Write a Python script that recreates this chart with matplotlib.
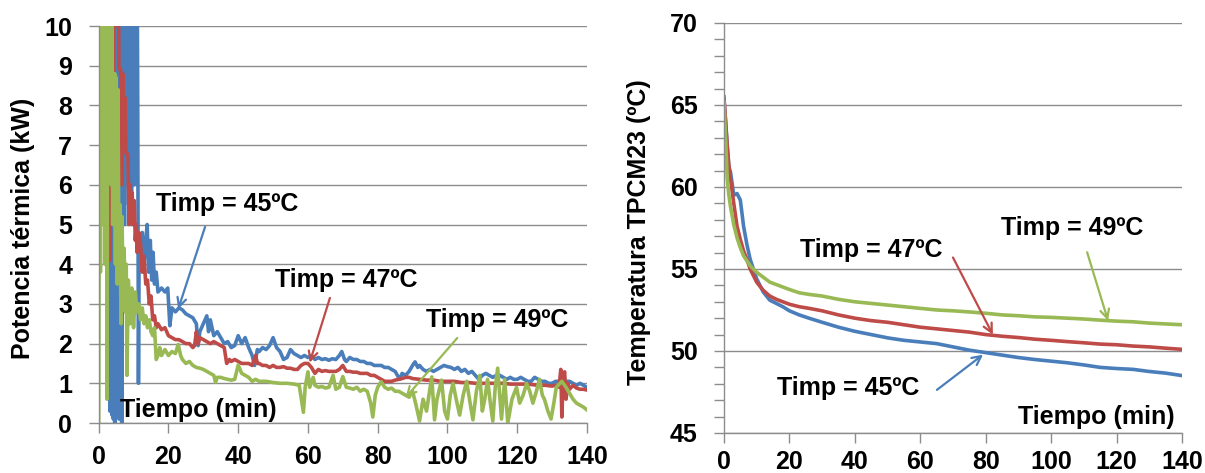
import numpy as np
import matplotlib.pyplot as plt
from matplotlib.ticker import MultipleLocator

plt.rcParams['font.family'] = ['Liberation Sans', 'DejaVu Sans']
plt.rcParams['font.weight'] = 'bold'

BLUE = '#4a7ebb'
RED = '#be4b48'
GREEN = '#98b954'
GRID = '#8c8c8c'

# --- left panel: potencia termica (kW) vs tiempo (min) ---
t45 = [0, 0.5, 1, 1.5, 2, 2.5, 3.0, 3.2, 3.4, 3.6, 3.8, 4.0, 4.2, 4.4, 4.6, 4.8, 5.0, 5.2, 5.4,
       5.6, 5.8, 6.0, 6.2, 6.4, 6.6, 6.8, 7.0, 7.2, 7.4, 7.6, 7.8, 8.0, 8.2, 8.4, 8.6, 8.8, 9.0,
       9.2, 9.4, 9.6, 9.8, 10.0, 10.2, 10.4, 10.6, 10.8, 11.0, 11.2, 11.4, 11.6, 12.0,
       12.5, 13, 13.5, 13.9, 14.3, 14.8,
       15.2, 15.6, 16, 16.5, 17, 18, 19, 19.8, 20.4, 21, 22, 23, 24, 25, 26, 27, 28, 28.5, 29,
       30, 31, 31.5, 32, 33, 34, 35, 36, 37, 38, 39, 40, 41, 42, 43, 44, 44.7, 45.5, 46, 47, 48,
       49, 50, 51, 52, 53, 54, 55, 56, 57, 58, 59, 60, 61, 62, 63, 64, 65, 66, 67, 68, 69, 69.7,
       70.5, 71, 72, 73, 74, 75, 76, 77, 78, 79, 80, 81, 82, 83, 84, 85, 86.3, 87, 88, 89, 90,
       90.7, 91.5, 92, 93, 94, 95, 96, 97, 98, 99, 100, 101, 102, 103, 104, 105, 106, 107, 108,
       109, 110, 111, 112, 113, 114, 115, 116, 117, 118, 119, 120, 121, 122, 123, 124, 125, 126,
       127, 128, 129, 130, 131, 132, 133, 134, 135, 136, 137, 138, 139, 140]
p45 = [12, 11, 12, 11, 12, 10, 3.5, 0.3, 6, 12, 0.2, 12, 0.1, 12, 0.0, 12, 3, 12, 2,
       12, 0.1, 12, 8, 12, 0.0, 12, 6, 12, 5, 12, 7.3, 12, 6, 12, 5.5, 12, 6,
       12, 5, 12, 7, 12, 6, 12, 8, 12, 12, 8, 1.0, 4.5, 4.2,
       4.8, 4.0, 4.6, 5.0, 3.8, 4.6,
       3.6, 4.3, 3.5, 3.8, 3.3, 3.4, 3.3, 3.4, 2.45, 2.9, 2.8, 2.9, 2.85, 2.75, 2.7, 2.65, 2.5, 1.95, 2.3,
       2.5, 2.7, 2.3, 2.6, 2.2, 2.3, 2.15, 2.0, 2.05, 1.9, 1.95, 2.2, 2.0, 2.15, 1.9, 1.7, 1.45, 1.85, 1.8, 1.9, 1.85,
       1.95, 2.15, 1.9, 1.8, 1.6, 1.65, 1.85, 1.75, 1.7, 1.65, 1.7, 1.65, 1.7, 1.6, 1.65, 1.6, 1.62, 1.58, 1.62, 1.6, 1.7, 1.8,
       1.6, 1.55, 1.65, 1.6, 1.6, 1.55, 1.55, 1.5, 1.5, 1.45, 1.45, 1.45, 1.4, 1.4, 1.35, 1.3, 1.1, 1.25, 1.2, 1.3, 1.45,
       1.54, 1.4, 1.45, 1.35, 1.3, 1.35, 1.3, 1.35, 1.4, 1.45, 1.42, 1.4, 1.35, 1.4, 1.3, 1.35, 1.25, 1.3, 1.2,
       1.1, 1.2, 1.25, 1.2, 1.15, 1.2, 1.2, 1.15, 1.1, 1.15, 1.1, 1.1, 1.15, 1.1, 1.05, 1.05, 1.15, 1.1,
       1.05, 1.05, 1.0, 1.0, 1.05, 1.05, 1.1, 1.05, 1.05, 1.0, 0.95, 1.0, 0.95, 0.9]

t47 = [0, 1, 2, 3.0, 3.3, 3.5, 3.8, 4.0, 4.2, 4.4, 4.6, 4.8, 5.0, 5.2, 5.4, 5.6, 5.8, 6.0, 6.3,
       6.6, 6.9, 7.2, 7.5, 7.8, 8.1, 8.4, 8.7, 9.0, 9.3, 9.6, 9.9, 10.2, 10.5, 10.8, 11, 11.5,
       12, 12.5, 13, 13.5, 14, 14.5, 15, 15.5, 16, 16.5, 17, 18, 19,
       20, 21, 22, 23, 24, 25, 26, 27, 27.5, 28, 28.5, 29, 30, 31, 32, 33, 34, 35, 36, 36.7, 37.5,
       38, 39, 40, 41, 42, 43, 44, 45, 45.5, 46, 47, 48, 49, 50, 51, 52, 53, 54, 55, 56, 57, 58,
       59, 60, 61, 62, 63, 64, 65, 66, 67, 68, 69, 70, 71, 72, 73, 74, 75, 76, 77, 78, 79, 80, 81,
       82, 83, 84, 85, 86, 87, 88, 89, 90, 92, 94, 96, 98, 100, 102, 104, 106, 108, 110, 112, 114,
       116, 118, 120, 122, 124, 126, 128, 130, 131, 132, 132.5, 132.8, 133.2, 133.6, 134, 134.5,
       135, 136, 137, 138, 139, 140]
p47 = [12, 12, 12, 12, 4.1, 12, 12, 12, 6.2, 12, 12, 10, 12, 11, 12, 12, 9, 8.9, 8.9,
       6, 8.8, 7.5, 8.2, 6.8, 6.8, 6.7, 5.0, 6.0, 5.5, 5.8, 5.0, 5.6, 4.6, 5.0, 4.3, 4.8,
       4.5, 3.8, 4.2, 3.5, 3.6, 3.0, 3.2, 2.6, 2.7, 2.4, 2.5, 2.35, 2.4,
       2.2, 2.15, 2.1, 2.1, 2.05, 2.0, 2.0, 1.9, 1.95, 2.3, 2.0, 2.15, 2.1, 2.05, 2.0, 2.05, 2.0, 1.95, 1.9, 1.5, 1.6,
       1.55, 1.6, 1.55, 1.5, 1.5, 1.5, 1.45, 1.7, 1.5, 1.5, 1.45, 1.45, 1.4, 1.45, 1.4, 1.4, 1.42, 1.38, 1.38, 1.35, 1.35, 1.45,
       1.5, 1.5, 1.4, 1.25, 1.35, 1.3, 1.32, 1.3, 1.3, 1.3, 1.35, 1.45, 1.3, 1.3, 1.28, 1.28, 1.25, 1.25, 1.25, 1.2, 1.2, 1.15, 1.1,
       1.05, 1.05, 1.05, 1.08, 1.1, 1.12, 1.15, 1.15, 1.12, 1.1, 1.08, 1.08, 1.05, 1.05, 1.05, 1.02, 1.02, 1.0, 1.0, 1.0, 1.0,
       1.0, 0.98, 0.98, 0.98, 0.97, 0.95, 0.95, 0.93, 0.95, 0.9, 1.35, 0.15, 1.2, 1.29, 0.6, 1.0,
       0.85, 0.95, 0.88, 0.85, 0.85, 0.83]

t49 = [0, 0.3, 0.5, 0.7, 0.9, 1.1, 1.3, 1.5, 1.8, 2.0, 2.2, 2.4, 2.6, 2.8, 3.0, 3.2, 3.4, 3.6,
       3.8, 4.0, 4.3, 4.6, 4.8, 5.0, 5.3, 5.5, 5.8, 6.1, 6.4, 6.7, 7.0, 7.3, 7.6, 7.9, 8.1, 8.5,
       9.0, 9.5, 10, 10.5, 11, 11.5, 12, 12.5, 13, 13.5, 14, 14.5, 15, 15.5, 16, 16.5,
       17, 17.5, 18, 19, 20, 21, 22, 22.8, 23.5, 24, 25, 26, 27, 28, 29, 30, 31, 32, 33, 33.5, 34,
       35, 36, 37, 38, 39, 40, 41, 42, 43, 44, 45, 46, 48, 50, 52, 54, 56, 57.5, 58.3, 58.7, 59.2,
       60, 60.5, 61.5, 62, 63, 64, 65, 66, 67.2, 68, 69, 70, 71, 72, 73, 74, 75, 76, 77, 78, 78.6,
       79.3, 80, 81, 82, 83, 84, 85, 86, 87, 88, 89, 90, 91, 92, 93, 94, 95.5, 96.3, 97, 98.3, 99.2,
       100, 100.8, 101.6, 102.5, 103.5, 104.5, 105.5, 106.5, 107.3, 108.3, 109.3, 110, 110.7, 111.5,
       112.3, 113, 113.7, 114.4, 115.5, 116.4, 117.3, 118.5, 119.8, 120.7, 121.7, 122.7, 123.6, 124.5,
       125.5, 126.4, 127.2, 127.8, 128.8, 129.7, 130.5, 131.2, 132.8, 134, 135, 136, 137, 138, 139, 140]
p49 = [0, 12, 3.8, 12, 12, 5, 12, 12, 4, 12, 12, 0.6, 12, 12, 8, 12, 12, 6,
       12, 5, 8.6, 8.8, 4, 8.7, 3.5, 8.4, 4.5, 5.5, 2.5, 5.2, 3.0, 4.4, 2.8, 4.0, 1.2, 3.6,
       2.5, 3.4, 2.4, 3.3, 2.8, 3.0, 2.6, 2.9, 2.5, 2.7, 2.4, 2.6, 2.3, 2.2, 2.4, 1.6,
       1.7, 1.9, 1.7, 1.85, 1.7, 1.8, 1.75, 1.98, 1.7, 1.6, 1.5, 1.55, 1.45, 1.4, 1.38, 1.35, 1.3, 1.25, 1.2, 1.03, 1.15,
       1.15, 1.12, 1.1, 1.08, 1.1, 1.46, 1.25, 1.2, 1.15, 1.05, 1.1, 1.05, 1.05, 1.02, 1.0, 1.0, 0.98, 0.95, 0.5, 0.27, 0.9,
       1.29, 0.9, 1.15, 0.95, 0.9, 0.92, 0.88, 0.9, 1.2, 0.85, 0.9, 1.17, 0.9, 0.88, 0.85, 0.9, 0.8, 0.85, 0.8, 0.5, 0.15,
       0.7, 0.9, 1.04, 0.9, 0.85, 0.88, 0.8, 0.8, 0.75, 0.7, 0.65, 0.8, 0.45, 0.05, 0.6, 0.3, 1.16, 0.08, 0.6, 1.08, 0.3,
       0.1, 0.7, 1.0, 0.6, 0.2, 0.7, 1.05, 0.5, 0.08, 0.8, 1.2, 0.3, 0.6, 1.1,
       0.5, 0.05, 0.9, 1.38, 0.1, 1.1, 0.0, 0.6, 0.9, 0.5, 0.7, 1.0, 0.8, 0.5,
       0.8, 1.1, 0.7, 0.6, 0.3, 0.1, 0.5, 0.9, 1.05, 0.9, 0.75, 0.6, 0.5, 0.45, 0.4, 0.33]

# --- right panel: temperatura TPCM23 (C) vs tiempo (min) ---
t_temp = [0, 0.5, 1, 1.5, 2, 3, 4, 5, 6, 7, 8, 9, 10, 12, 14, 16, 18, 20, 23, 26, 30, 35, 40,
          45, 50, 55, 60, 65, 70, 75, 80, 85, 90, 95, 100, 105, 110, 115, 120, 125, 130, 135, 140]
T45 = [65.3, 64.0, 62.5, 61.2, 60.9, 59.5, 59.6, 59.2, 57.6, 56.5, 55.6, 55.0, 54.4, 53.6, 53.1,
       52.9, 52.7, 52.45, 52.2, 52.0, 51.75, 51.45, 51.2, 51.0, 50.8, 50.65, 50.55, 50.45, 50.25,
       50.05, 49.9, 49.75, 49.6, 49.48, 49.38, 49.28, 49.15, 49.0, 48.93, 48.88, 48.75, 48.65, 48.5]
T47 = [65.5, 64.0, 62.5, 61.3, 60.5, 59.0, 57.6, 56.8, 56.1, 55.6, 55.0, 54.6, 54.2, 53.7, 53.35,
       53.15, 53.0, 52.85, 52.7, 52.6, 52.45, 52.2, 52.0, 51.85, 51.75, 51.6, 51.45, 51.35, 51.25,
       51.15, 51.0, 50.9, 50.82, 50.72, 50.65, 50.57, 50.5, 50.42, 50.38, 50.3, 50.25, 50.17, 50.1]
T49 = [65.2, 63.0, 60.5, 59.5, 58.8, 57.7, 56.9, 56.3, 55.8, 55.5, 55.2, 55.0, 54.8, 54.5, 54.2,
       54.05, 53.9, 53.75, 53.55, 53.45, 53.35, 53.15, 53.0, 52.9, 52.8, 52.7, 52.6, 52.5, 52.45,
       52.38, 52.3, 52.2, 52.15, 52.08, 52.05, 52.0, 51.95, 51.88, 51.82, 51.78, 51.7, 51.65, 51.6]

labels = ['Timp = 45ºC', 'Timp = 47ºC', 'Timp = 49ºC']

FS = 18
LW = 2.6

fig = plt.figure(figsize=(12.05, 4.73), dpi=100)
ax1 = fig.add_axes([0.0819, 0.1057, 0.4052, 0.8393])
ax2 = fig.add_axes([0.6008, 0.0846, 0.3801, 0.8668])


def style_axes(ax, xpad):
    ax.grid(axis='y', color=GRID, lw=1.0)
    ax.set_axisbelow(True)
    for s in ['top', 'right']:
        ax.spines[s].set_visible(False)
    for s in ['left', 'bottom']:
        ax.spines[s].set_color(GRID)
        ax.spines[s].set_linewidth(1.0)
    ax.tick_params(which='both', direction='out', color=GRID, width=1.0)
    ax.tick_params(which='major', length=7, labelsize=FS)
    ax.tick_params(axis='y', which='major', pad=12)
    ax.tick_params(axis='x', which='major', pad=xpad)
    ax.tick_params(which='minor', length=7)
    for lab in ax.get_xticklabels() + ax.get_yticklabels():
        lab.set_fontweight('bold')


# left
ax1.plot(t45, p45, color=BLUE, lw=LW)
ax1.plot(t47, p47, color=RED, lw=LW)
ax1.plot(t49, p49, color=GREEN, lw=LW)
ax1.set_xlim(0, 140)
ax1.set_ylim(0, 10)
ax1.xaxis.set_major_locator(MultipleLocator(20))
ax1.yaxis.set_major_locator(MultipleLocator(1))
style_axes(ax1, 9)
ax1.set_ylabel('Potencia térmica (kW)', fontsize=FS, fontweight='bold', va='center')
ax1.yaxis.set_label_coords(-0.155, 0.49)
ax1.text(6.1, 0.33, 'Tiempo (min)', fontsize=FS, fontweight='bold', ha='left', va='center')

arrow_kw = dict(arrowstyle='->', lw=1.6, mutation_scale=16, shrinkA=0, shrinkB=0)
ax1.annotate('', xy=(22.8, 2.87), xytext=(30.5, 4.94), arrowprops=dict(color=BLUE, **arrow_kw))
ax1.annotate('', xy=(60.5, 1.52), xytext=(66.3, 3.15), arrowprops=dict(color=RED, **arrow_kw))
ax1.annotate('', xy=(88.0, 0.64), xytext=(102.8, 2.14), arrowprops=dict(color=GREEN, **arrow_kw))
ax1.text(36.9, 5.52, labels[0], fontsize=FS, fontweight='bold', ha='center', va='center')
ax1.text(71.0, 3.6, labels[1], fontsize=FS, fontweight='bold', ha='center', va='center')
ax1.text(114.4, 2.59, labels[2], fontsize=FS, fontweight='bold', ha='center', va='center')

# right
ax2.plot(t_temp, T45, color=BLUE, lw=LW)
ax2.plot(t_temp, T47, color=RED, lw=LW)
ax2.plot(t_temp, T49, color=GREEN, lw=LW)
ax2.set_xlim(0, 140)
ax2.set_ylim(45, 70)
ax2.xaxis.set_major_locator(MultipleLocator(20))
ax2.yaxis.set_major_locator(MultipleLocator(5))
ax2.yaxis.set_minor_locator(MultipleLocator(1))
style_axes(ax2, 5)
ax2.set_ylabel('Temperatura TPCM23 (ºC)', fontsize=FS, fontweight='bold', va='center')
ax2.yaxis.set_label_coords(-0.185, 0.49)
ax2.text(137.9, 45.99, 'Tiempo (min)', fontsize=FS, fontweight='bold', ha='right', va='center')

ax2.annotate('', xy=(79.2, 49.78), xytext=(65.1, 47.63), arrowprops=dict(color=BLUE, **arrow_kw))
ax2.annotate('', xy=(82.2, 50.99), xytext=(70.0, 55.7), arrowprops=dict(color=RED, **arrow_kw))
ax2.annotate('', xy=(117.4, 51.85), xytext=(111.0, 56.02), arrowprops=dict(color=GREEN, **arrow_kw))
ax2.text(37.9, 47.75, labels[0], fontsize=FS, fontweight='bold', ha='center', va='center')
ax2.text(44.9, 56.14, labels[1], fontsize=FS, fontweight='bold', ha='center', va='center')
ax2.text(106.4, 57.48, labels[2], fontsize=FS, fontweight='bold', ha='center', va='center')

fig.savefig('out.png', dpi=100)
